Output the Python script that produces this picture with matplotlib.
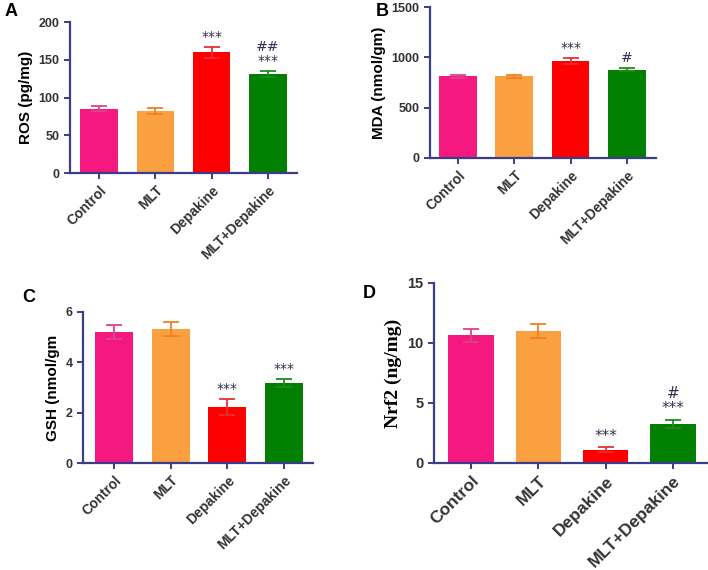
import matplotlib
matplotlib.use("Agg")
import matplotlib.pyplot as plt
import numpy as np

categories = ["Control", "MLT", "Depakine", "MLT+Depakine"]
bar_colors = ["#F5187F", "#FBA040", "#FF0000", "#007F00"]
err_colors = ["#E0408F", "#F08020", "#E83030", "#1E8C1E"]

ros_mean = [85, 82, 160, 131]
ros_err = [3.5, 3.5, 7.5, 4.5]
ros_sig = ["", "", "***", "##\n***"]

mda_mean = [810, 810, 965, 875]
mda_err = [12, 12, 30, 15]
mda_sig = ["", "", "***", "#"]

gsh_mean = [5.2, 5.32, 2.22, 3.18]
gsh_err = [0.27, 0.28, 0.33, 0.15]
gsh_sig = ["", "", "***", "***"]

nrf2_mean = [10.65, 11.0, 1.1, 3.25]
nrf2_err = [0.55, 0.6, 0.2, 0.35]
nrf2_sig = ["", "", "***", "#\n***"]

W, H = 708, 570
fig = plt.figure(figsize=(W / 100, H / 100), dpi=100)
AX = "#3A3D8A"
TXT = "#333333"
SIG = "#303050"


def make_ax(l, r, t, b):
    return fig.add_axes([l / W, 1 - b / H, (r - l) / W, (b - t) / H])


def panel(ax, means, errs, sigs, ylim, yticks, ylabel, xl, tick_fs=10,
          ylab_font="Liberation Sans", ylab_fs=11, ytick_fs=9, sig_fs=10,
          sig_off=0.02):
    x = np.arange(len(categories))
    ax.bar(x, means, width=0.67, color=bar_colors, zorder=2)
    for i in range(len(x)):
        ax.errorbar(x[i], means[i], yerr=errs[i], color=err_colors[i],
                    capsize=6, elinewidth=1.3, capthick=1.3, zorder=3)
        if sigs[i]:
            ax.text(x[i], means[i] + errs[i] + sig_off * ylim[1], sigs[i],
                    ha="center", va="bottom", fontsize=sig_fs, color=SIG,
                    linespacing=1.0)
    ax.set_xlim(*xl)
    ax.set_ylim(*ylim)
    ax.set_yticks(yticks)
    ax.set_xticks(x)
    ax.set_xticklabels(categories, rotation=45, ha="right",
                       rotation_mode="anchor", fontsize=tick_fs,
                       fontweight="bold", color=TXT, family="Liberation Sans")
    for lab in ax.get_yticklabels():
        lab.set_fontweight("bold")
        lab.set_fontsize(ytick_fs)
        lab.set_color(TXT)
        lab.set_family("Liberation Sans")
    for s in ["top", "right"]:
        ax.spines[s].set_visible(False)
    for s in ["left", "bottom"]:
        ax.spines[s].set_color(AX)
        ax.spines[s].set_linewidth(1.6)
    ax.tick_params(axis="both", colors=AX, length=4, width=1.4,
                   labelcolor=TXT)
    ax.set_ylabel(ylabel, fontsize=ylab_fs, fontweight="bold",
                  family=ylab_font, color="black")


axA = make_ax(70, 297, 22, 173)
panel(axA, ros_mean, ros_err, ros_sig, (0, 200), [0, 50, 100, 150, 200],
      "ROS (pg/mg)", (-0.52, 3.52))

axB = make_ax(430, 656, 7, 158)
panel(axB, mda_mean, mda_err, mda_sig, (0, 1500), [0, 500, 1000, 1500],
      "MDA (nmol/gm)", (-0.50, 3.52))

axC = make_ax(83, 313, 312, 463)
panel(axC, gsh_mean, gsh_err, gsh_sig, (0, 6), [0, 2, 4, 6],
      "GSH (nmol/gm", (-0.55, 3.51))

axD = make_ax(434, 708, 283, 463)
panel(axD, nrf2_mean, nrf2_err, nrf2_sig, (0, 15), [0, 5, 10, 15],
      "Nrf2 (ng/mg)", (-0.55, 3.52), tick_fs=12.5,
      ylab_font="Liberation Serif", ylab_fs=14, ytick_fs=10.5, sig_fs=11)

for txt, (px, py) in zip("ABCD", [(5, 12), (376, 12), (22, 297), (363, 293)]):
    fig.text(px / W, 1 - py / H, txt, fontsize=13, fontweight="bold",
             family="Liberation Sans", va="center", ha="left")

fig.savefig("out.png", dpi=100)
